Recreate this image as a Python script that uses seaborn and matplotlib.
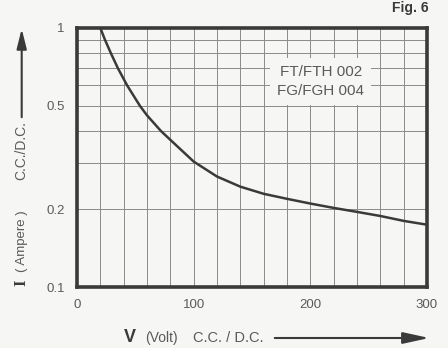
import numpy as np
import pandas as pd
import matplotlib
matplotlib.use("Agg")
import matplotlib.pyplot as plt
import seaborn as sns

# Curve (V in volt, I in ampere)
volts = [20, 24, 29, 35, 43, 54, 60, 72, 80, 100, 120, 140, 160, 180, 200, 220, 240, 260, 280, 300]
amps = [1.0, 0.9, 0.8, 0.7, 0.6, 0.5, 0.46, 0.40, 0.37, 0.305, 0.267, 0.244, 0.229, 0.219,
        0.210, 0.202, 0.195, 0.188, 0.180, 0.174]

x_ticks = [0, 100, 200, 300]
y_ticks = [0.1, 0.2, 0.5, 1]
y_tick_labels = ["0.1", "0.2", "0.5", "1"]
models = ["FT/FTH 002", "FG/FGH 004"]

df = pd.DataFrame({"V": volts, "I": amps})

sns.set_style("white")
plt.rcParams["font.family"] = ["Liberation Sans", "DejaVu Sans"]

paper = "#f6f6f4"
ink = "#3a3a3a"
grey = "#5a5a5a"

fig = plt.figure(figsize=(4.48, 3.48), dpi=100, facecolor=paper)
ax = fig.add_axes([77 / 448, 1 - 287 / 348, 350 / 448, 259 / 348])
ax.set_facecolor(paper)

ax.set_yscale("log")
ax.set_xlim(0, 300)
ax.set_ylim(0.1, 1)

# grid: every 20 V, log minor lines 0.2..0.9
for v in np.arange(20, 300, 20):
    ax.axvline(v, color="#8a8a8a", lw=0.7, zorder=1)
for i in [0.2, 0.3, 0.4, 0.5, 0.6, 0.7, 0.8, 0.9]:
    ax.axhline(i, color="#8a8a8a", lw=0.7, zorder=1)

sns.lineplot(data=df, x="V", y="I", color=ink, lw=1.8, ax=ax, zorder=3)

ax.set_xticks(x_ticks)
ax.set_xticks(np.arange(0, 301, 20), minor=True)
ax.set_yticks(y_ticks)
ax.set_yticklabels(y_tick_labels)
ax.yaxis.set_minor_locator(matplotlib.ticker.NullLocator())
ax.tick_params(axis="both", which="major", direction="out", length=5, width=0.8,
               color=grey, labelcolor=grey, labelsize=9.5, pad=4)
ax.tick_params(axis="x", which="minor", direction="out", length=5, width=0.8, color=grey)
ax.set_xlabel("")
ax.set_ylabel("")

for s in ax.spines.values():
    s.set_visible(True)
    s.set_color(ink)
    s.set_linewidth(2.6)
    s.set_zorder(5)

# model label on a blank patch
ax.text(209, 0.62, models[0] + "\n" + models[1], ha="center", va="center",
        fontsize=11, color=grey, linespacing=1.45, zorder=4,
        bbox=dict(boxstyle="square,pad=0.45", fc=paper, ec="none"))

fig.text(429 / 448, 1 - 8 / 348, "Fig. 6", ha="right", va="center", fontsize=10,
         fontweight="bold", color=ink)

# y axis label with arrow
yx = 21.7 / 448
fig.text(yx, 1 - 283 / 348, "I", rotation=90, ha="center", va="center",
         fontsize=12, fontweight="bold", color=ink, family="Liberation Serif")
fig.text(yx, 1 - 241 / 348, "( Ampere )", rotation=90, ha="center", va="center",
         fontsize=9.5, color=grey)
fig.text(yx, 1 - 151 / 348, "C.C./D.C.", rotation=90, ha="center", va="center",
         fontsize=10, color=grey)
fig.add_artist(matplotlib.patches.FancyArrowPatch(
    (yx, 1 - 120 / 348), (yx, 1 - 26 / 348), transform=fig.transFigure,
    arrowstyle="-|>,head_length=12,head_width=3", color=ink, lw=1.5))

# x axis label with arrow
xy = 1 - 338 / 348
fig.text(130 / 448, xy, "V", ha="center", va="center",
         fontsize=13, fontweight="bold", color=ink)
fig.text(161 / 448, xy, "(Volt)", ha="center", va="center",
         fontsize=10, color=grey)
fig.text(228 / 448, xy, "C.C. / D.C.", ha="center", va="center",
         fontsize=10.5, color=grey)
fig.add_artist(matplotlib.patches.FancyArrowPatch(
    (272 / 448, xy), (432 / 448, xy), transform=fig.transFigure,
    arrowstyle="-|>,head_length=16,head_width=3.5", color=ink, lw=1.5))

fig.savefig("out.png", dpi=100, facecolor=paper)
